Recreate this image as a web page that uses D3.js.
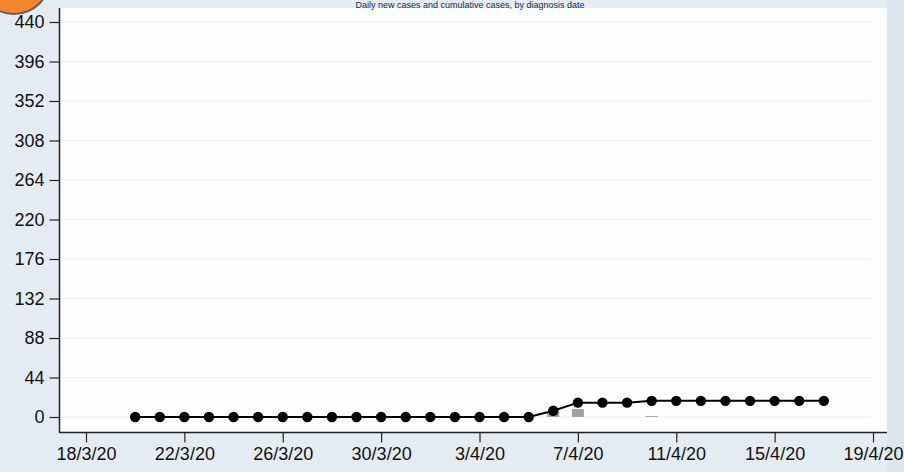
<!DOCTYPE html>
<html>
<head>
<meta charset="utf-8">
<script src="https://cdn.jsdelivr.net/npm/d3@7"></script>
<style>
  html, body { margin: 0; padding: 0; background: #e5ecf1; }
  svg { display: block; font-family: "Liberation Sans", Arial, sans-serif; }
</style>
</head>
<body>
<svg id="chart" width="904" height="472"></svg>
<script>
// ---- data ----
const dates = ["2020-03-20","2020-03-21","2020-03-22","2020-03-23","2020-03-24","2020-03-25",
  "2020-03-26","2020-03-27","2020-03-28","2020-03-29","2020-03-30","2020-03-31",
  "2020-04-01","2020-04-02","2020-04-03","2020-04-04","2020-04-05","2020-04-06",
  "2020-04-07","2020-04-08","2020-04-09","2020-04-10","2020-04-11","2020-04-12",
  "2020-04-13","2020-04-14","2020-04-15","2020-04-16","2020-04-17"];
const cumulativeCases = [0,0,0,0,0,0,0,0,0,0,0,0,0,0,0,0,0,7,16,16,16,18,18,18,18,18,18,18,18];
const dailyCases =      [0,0,0,0,0,0,0,0,0,0,0,0,0,0,0,0,0,6,9,0,0,1,0,0,0,0,0,0,0];
const yTicks = [0,44,88,132,176,220,264,308,352,396,440];
const xTickDates = ["2020-03-18","2020-03-22","2020-03-26","2020-03-30","2020-04-03",
  "2020-04-07","2020-04-11","2020-04-15","2020-04-19"];
const titleText = "Daily new cases and cumulative cases, by diagnosis date";

const parse = d3.timeParse("%Y-%m-%d");
const rows = dates.map((d, i) => ({ date: parse(d), cum: cumulativeCases[i], daily: dailyCases[i] }));

const svg = d3.select("#chart");

// background
svg.append("rect").attr("x", 0).attr("y", 0).attr("width", 904).attr("height", 472).attr("fill", "#e5ecf1");
svg.append("rect").attr("x", 887).attr("y", 0).attr("width", 17).attr("height", 472).attr("fill", "#dde6ec");
// plot region
svg.append("rect").attr("x", 60).attr("y", 8).attr("width", 827).attr("height", 424).attr("fill", "#fdfefe");

const x = d3.scaleTime()
  .domain([parse("2020-03-18"), parse("2020-04-19")])
  .range([86, 873]);
const y = d3.scaleLinear().domain([0, 440]).range([417, 22]);

// gridlines
svg.append("g").selectAll("line").data(yTicks).join("line")
  .attr("x1", 60).attr("x2", 871)
  .attr("y1", d => y(d)).attr("y2", d => y(d))
  .attr("stroke", "#eef1f2").attr("stroke-width", 1.2);

// y axis
const yAxis = d3.axisLeft(y).tickValues(yTicks).tickSize(10).tickPadding(5);
const gy = svg.append("g").attr("transform", "translate(59.5,0)").call(yAxis);
gy.select(".domain").remove();
gy.append("line").attr("x1", 0).attr("x2", 0).attr("y1", 8).attr("y2", 432.5)
  .attr("stroke", "#222").attr("stroke-width", 1.5);
gy.selectAll(".tick line").attr("stroke", "#222").attr("stroke-width", 1.2);
gy.selectAll(".tick text").attr("fill", "#111").style("font-size", "18px")
  .style("font-family", "'Liberation Sans', Arial, sans-serif");

// x axis
const fmt = d => `${d.getDate()}/${d.getMonth() + 1}/${String(d.getFullYear()).slice(2)}`;
const xAxis = d3.axisBottom(x).tickValues(xTickDates.map(parse)).tickFormat(fmt).tickSize(10).tickPadding(5);
const gx = svg.append("g").attr("transform", "translate(0,432.5)").call(xAxis);
gx.select(".domain").remove();
gx.append("line").attr("x1", 59).attr("x2", 887).attr("y1", 0).attr("y2", 0)
  .attr("stroke", "#222").attr("stroke-width", 1.5);
gx.selectAll(".tick line").attr("stroke", "#222").attr("stroke-width", 1.2);
gx.selectAll(".tick text").attr("fill", "#111").style("font-size", "18px")
  .style("font-family", "'Liberation Sans', Arial, sans-serif");

// daily bars
const barW = 12;
svg.append("g").selectAll("rect").data(rows.filter(r => r.daily > 0)).join("rect")
  .attr("x", d => x(d.date) - barW / 2)
  .attr("y", d => y(d.daily))
  .attr("width", barW)
  .attr("height", d => y(0) - y(d.daily))
  .attr("fill", "#a3a3a3");

// cumulative line
const line = d3.line().x(d => x(d.date)).y(d => y(d.cum));
svg.append("path").datum(rows).attr("d", line)
  .attr("fill", "none").attr("stroke", "#000").attr("stroke-width", 2);
svg.append("g").selectAll("circle").data(rows).join("circle")
  .attr("cx", d => x(d.date)).attr("cy", d => y(d.cum)).attr("r", 5.2).attr("fill", "#000");

// title (small, in the top strip)
svg.append("text").attr("x", 470).attr("y", 8).attr("text-anchor", "middle")
  .attr("fill", "#1c2a48").style("font-size", "9px")
  .style("font-family", "'Liberation Sans', Arial, sans-serif")
  .text(titleText);

// orange badge
svg.append("circle").attr("cx", 14).attr("cy", -22).attr("r", 36)
  .attr("fill", "#f0862e").attr("stroke", "#3d6d8f").attr("stroke-width", 2);
</script>
</body>
</html>
